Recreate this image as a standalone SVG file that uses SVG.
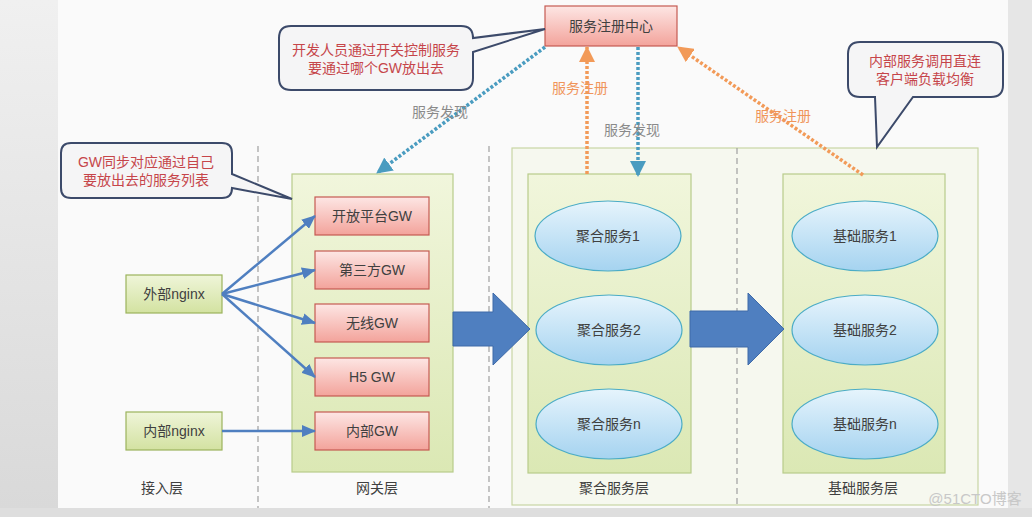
<svg xmlns="http://www.w3.org/2000/svg" width="1032" height="517" viewBox="0 0 1032 517">
<defs>
<linearGradient id="gRed" x1="0" y1="0" x2="0" y2="1"><stop offset="0" stop-color="#fde6e4"/><stop offset="1" stop-color="#f3a39b"/></linearGradient>
<linearGradient id="gGreen" x1="0" y1="0" x2="0" y2="1"><stop offset="0" stop-color="#eff5d9"/><stop offset="1" stop-color="#d3e2a1"/></linearGradient>
<linearGradient id="gCont" x1="0" y1="0" x2="0" y2="1"><stop offset="0" stop-color="#f1f6dc"/><stop offset="1" stop-color="#dbe8b4"/></linearGradient>
<linearGradient id="gBlue" x1="0" y1="0" x2="0" y2="1"><stop offset="0" stop-color="#e6f4fc"/><stop offset="1" stop-color="#a5d3f0"/></linearGradient>
<linearGradient id="gLeft" x1="0" y1="0" x2="0" y2="1"><stop offset="0" stop-color="#f0f0f0"/><stop offset="1" stop-color="#d9d9d9"/></linearGradient>
<marker id="mBlue" markerUnits="userSpaceOnUse" markerWidth="14" markerHeight="12" refX="13" refY="6" orient="auto"><path d="M0,0 L14,6 L0,12 Z" fill="#4f7fc0"/></marker>
<marker id="mTeal" markerUnits="userSpaceOnUse" markerWidth="16" markerHeight="16" refX="15" refY="8" orient="auto"><path d="M0,0 L16,8 L0,16 Z" fill="#4a9cc0"/></marker>
<marker id="mOrange" markerUnits="userSpaceOnUse" markerWidth="16" markerHeight="16" refX="15" refY="8" orient="auto"><path d="M0,0 L16,8 L0,16 Z" fill="#f29a58"/></marker>
<style>
text{font-family:"Liberation Sans","Noto Sans CJK SC",sans-serif;font-size:14px;text-anchor:middle;dominant-baseline:central;fill:#404040}
.red{fill:url(#gRed);stroke:#c55a52;stroke-width:1.2}
.grn{fill:url(#gGreen);stroke:#9bb35c;stroke-width:1.2}
.cont{fill:url(#gCont);stroke:#b8cc8a;stroke-width:1.2}
.ell{fill:url(#gBlue);stroke:#4bacc6;stroke-width:1.2}
.call{fill:#f5f5f6;stroke:#3c4a6a;stroke-width:2}
.ct{fill:#c6454a}
.lbl{fill:#8a8a8a}
.olbl{fill:#f0955a}
.dash{stroke:#a0a0a0;stroke-width:1.2;stroke-dasharray:6 4}
.conn{stroke:#4f7fc0;stroke-width:2.5;fill:none}
.teal{stroke:#4a9cc0;stroke-width:3.5;stroke-dasharray:3 2;fill:none}
.orng{stroke:#f29a58;stroke-width:3.5;stroke-dasharray:3 2;fill:none}
.big{fill:#4f7fc0;stroke:#3e6aa8;stroke-width:1}
</style>
</defs>
<rect x="0" y="0" width="1032" height="517" fill="#dedede"/>
<rect x="0" y="0" width="58" height="508" fill="url(#gLeft)"/>
<rect x="58" y="0" width="950" height="508" fill="#fafafa"/>
<rect x="1008" y="0" width="24" height="508" fill="#e6e6e6"/>

<g id="layer-lines">
<line class="dash" x1="258" y1="146" x2="258" y2="508"/>
<line class="dash" x1="489" y1="146" x2="489" y2="508"/>
</g>

<g id="outer-box"><rect x="512" y="148" width="466" height="357" fill="#f6f8ef" stroke="#c9d6a4" stroke-width="1.2"/></g>
<line class="dash" x1="737" y1="148" x2="737" y2="508"/>

<g id="gw-container"><rect class="cont" x="292" y="174" width="161" height="298"/></g>
<g id="agg-container"><rect class="cont" x="528" y="174" width="163" height="299"/></g>
<g id="base-container"><rect class="cont" x="783" y="174" width="162" height="299"/></g>

<g id="registry"><rect class="red" x="545" y="6" width="132" height="40"/><text x="611" y="26">服务注册中心</text></g>

<g id="gw-open"><rect class="red" x="315" y="197" width="114" height="38"/><text x="372" y="216">开放平台GW</text></g>
<g id="gw-third"><rect class="red" x="315" y="251" width="114" height="38"/><text x="372" y="270">第三方GW</text></g>
<g id="gw-wireless"><rect class="red" x="315" y="304" width="114" height="38"/><text x="372" y="323">无线GW</text></g>
<g id="gw-h5"><rect class="red" x="315" y="358" width="114" height="38"/><text x="372" y="377">H5 GW</text></g>
<g id="gw-inner"><rect class="red" x="315" y="412" width="114" height="38"/><text x="372" y="431">内部GW</text></g>

<g id="nginx-ext"><rect class="grn" x="126" y="275" width="96" height="38"/><text x="174" y="294">外部nginx</text></g>
<g id="nginx-int"><rect class="grn" x="126" y="412" width="96" height="38"/><text x="174" y="431">内部nginx</text></g>

<g id="agg1"><ellipse class="ell" cx="608" cy="236" rx="73" ry="35"/><text x="608" y="236">聚合服务1</text></g>
<g id="agg2"><ellipse class="ell" cx="609" cy="330" rx="73" ry="35"/><text x="609" y="330">聚合服务2</text></g>
<g id="aggn"><ellipse class="ell" cx="609" cy="424" rx="73" ry="35"/><text x="609" y="424">聚合服务n</text></g>
<g id="base1"><ellipse class="ell" cx="865" cy="236" rx="73" ry="35"/><text x="865" y="236">基础服务1</text></g>
<g id="base2"><ellipse class="ell" cx="865" cy="330" rx="73" ry="35"/><text x="865" y="330">基础服务2</text></g>
<g id="basen"><ellipse class="ell" cx="865" cy="424" rx="73" ry="35"/><text x="865" y="424">基础服务n</text></g>

<g id="callout-dev"><path class="call" d="M291,26 H461 Q473,26 473,38 L545,29 L473,52 V78 Q473,90 461,90 H291 Q279,90 279,78 V38 Q279,26 291,26 Z"/><text class="ct" x="376" y="50">开发人员通过开关控制服务</text><text class="ct" x="376" y="68">要通过哪个GW放出去</text></g>
<g id="callout-gw"><path class="call" d="M71,143 H222 Q232,143 232,153 V174 L292,199 L232,188 Q232,198 222,198 H71 Q61,198 61,188 V153 Q61,143 71,143 Z"/><text class="ct" x="146" y="162">GW同步对应通过自己</text><text class="ct" x="146" y="180">要放出去的服务列表</text></g>
<g id="callout-inner"><path class="call" d="M860,42 H991 Q1003,42 1003,54 V85 Q1003,97 991,97 H913 L877,147 L875,97 H860 Q848,97 848,85 V54 Q848,42 860,42 Z"/><text class="ct" x="925" y="61">内部服务调用直连</text><text class="ct" x="925" y="79">客户端负载均衡</text></g>

<g id="connectors">
<line class="conn" x1="222" y1="294" x2="315" y2="216" marker-end="url(#mBlue)"/>
<line class="conn" x1="222" y1="294" x2="315" y2="270" marker-end="url(#mBlue)"/>
<line class="conn" x1="222" y1="294" x2="315" y2="323" marker-end="url(#mBlue)"/>
<line class="conn" x1="222" y1="294" x2="315" y2="377" marker-end="url(#mBlue)"/>
<line class="conn" x1="222" y1="431" x2="315" y2="431" marker-end="url(#mBlue)"/>
<polygon class="big" points="453,312 493,312 493,293 530,329 493,365 493,346 453,346"/>
<polygon class="big" points="690,311 748,311 748,293 784,329 748,365 748,347 690,347"/>
<line class="teal" x1="545" y1="47" x2="377" y2="173" marker-end="url(#mTeal)"/>
<line class="orng" x1="587" y1="174" x2="587" y2="47" marker-end="url(#mOrange)"/>
<line class="teal" x1="638" y1="47" x2="638" y2="176" marker-end="url(#mTeal)"/>
<line class="orng" x1="863" y1="175" x2="678" y2="47" marker-end="url(#mOrange)"/>
<text class="lbl" x="440" y="112">服务发现</text>
<text class="olbl" x="580" y="88">服务注册</text>
<text class="lbl" x="632" y="130">服务发现</text>
<text class="olbl" x="783" y="116">服务注册</text>
</g>

<g id="layer-labels">
<text x="162" y="488">接入层</text>
<text x="377" y="488">网关层</text>
<text x="614" y="488">聚合服务层</text>
<text x="863" y="488">基础服务层</text>
</g>
<text x="975" y="498" style="fill:#c8c8c8;font-size:15px">@51CTO博客</text>
</svg>
